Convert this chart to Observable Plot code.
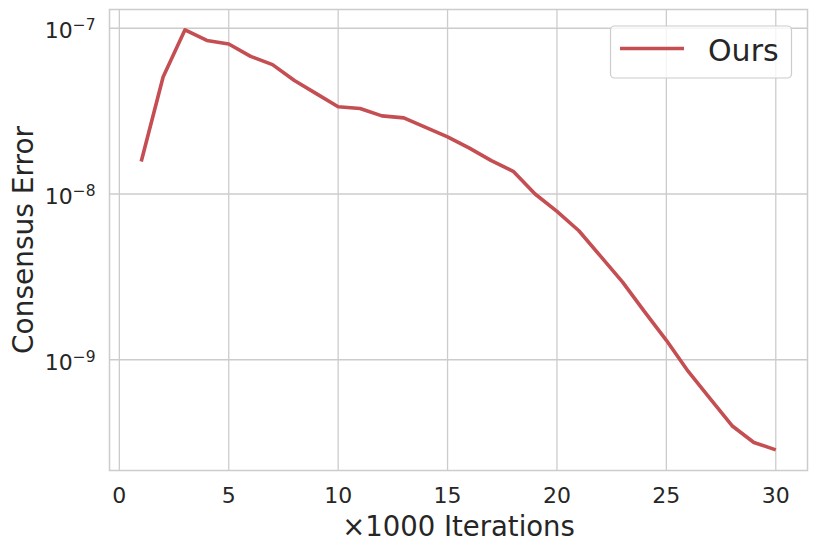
<!DOCTYPE html>
<html><head><meta charset="utf-8">
<script src="https://cdn.jsdelivr.net/npm/d3@7"></script>
<script src="https://cdn.jsdelivr.net/npm/@observablehq/plot@0.6"></script>
<style>html,body{margin:0;padding:0;background:#fff;} svg{display:block;}</style>
</head><body><div id="chart"></div>
<script>
const iterations = [1,2,3,4,5,6,7,8,9,10,11,12,13,14,15,16,17,18,19,20,21,22,23,24,25,26,27,28,29,30];
const consensusError = [1.57e-8,5.08e-8,9.79e-8,8.44e-8,8.03e-8,6.76e-8,6.03e-8,4.84e-8,4.03e-8,3.36e-8,
  3.28e-8,2.96e-8,2.88e-8,2.52e-8,2.21e-8,1.89e-8,1.59e-8,1.37e-8,1.0e-8,7.85e-9,
  6.0e-9,4.2e-9,2.94e-9,1.95e-9,1.31e-9,8.5e-10,5.83e-10,4.0e-10,3.17e-10,2.86e-10];
const xTicks = [0,5,10,15,20,25,30];
const yTicks = [1e-9,1e-8,1e-7];
const seriesName = "Ours";
const xLabel = "×1000 Iterations";
const yLabel = "Consensus Error";

const data = iterations.map((x,i)=>({x, y: consensusError[i]}));
const lineColor = "#C44E52";
const gridColor = "#cccccc";

const chart = Plot.plot({
  width: 816, height: 551,
  marginLeft: 109, marginRight: 9, marginTop: 9, marginBottom: 81,
  style: {fontFamily: "DejaVu Sans", color: "#262626", background: "white", overflow: "visible"},
  x: {domain: [-0.45, 31.45]},
  y: {type: "log", domain: [Math.pow(10,-9.668), Math.pow(10,-6.887)]},
  marks: [
    Plot.gridX(xTicks, {stroke: gridColor, strokeOpacity: 1, strokeWidth: 1.3}),
    Plot.gridY(yTicks, {stroke: gridColor, strokeOpacity: 1, strokeWidth: 1.3}),
    Plot.frame({stroke: gridColor, strokeWidth: 1.5}),
    Plot.axisX(xTicks, {tickSize: 0, tickPadding: 17, fontSize: 22, label: null, tickFormat: d => String(d)}),
    Plot.axisY(yTicks, {tickSize: 0, tickPadding: 14, fontSize: 22, dy: 3, label: null,
      tickFormat: d => "10^" + Math.round(Math.log10(d))}),
    Plot.line(data, {x: "x", y: "y", stroke: lineColor, strokeWidth: 3.6, strokeLinejoin: "round", strokeLinecap: "butt"}),
    Plot.text([xLabel], {text: d => d, frameAnchor: "bottom", lineAnchor: "middle", textAnchor: "middle", dy: 57, fontSize: 27.5, fill: "#262626"}),
    Plot.text([yLabel], {text: d => d, frameAnchor: "left", lineAnchor: "middle", textAnchor: "middle", dx: -85, rotate: -90, fontSize: 28, fill: "#262626"})
  ]
});

// mathtext-style superscripts on the log tick labels
d3.select(chart).selectAll('g[aria-label="y-axis tick label"] text').each(function(){
  const t = d3.select(this);
  const s = t.text();
  const e = s.split("^")[1];
  t.text("10");
  t.append("tspan").attr("dy", "-8").attr("font-size", "15.5px").text(e.replace("-", "\u2212"));
});

// legend inside the plot area
const svg = d3.select(chart);
const lg = svg.append("g");
lg.append("rect").attr("x", 610.5).attr("y", 26).attr("width", 181).attr("height", 52)
  .attr("rx", 4).attr("fill", "white").attr("fill-opacity", 0.8)
  .attr("stroke", "#cccccc").attr("stroke-width", 1.2);
lg.append("line").attr("x1", 620).attr("x2", 684).attr("y1", 48.5).attr("y2", 48.5)
  .attr("stroke", lineColor).attr("stroke-width", 3.6);
lg.append("text").attr("x", 708).attr("y", 60.5).attr("font-size", 30).attr("text-anchor", "start")
  .attr("font-family", "DejaVu Sans").attr("fill", "#262626").text(seriesName);

document.getElementById("chart").appendChild(chart);
</script>
</body></html>
